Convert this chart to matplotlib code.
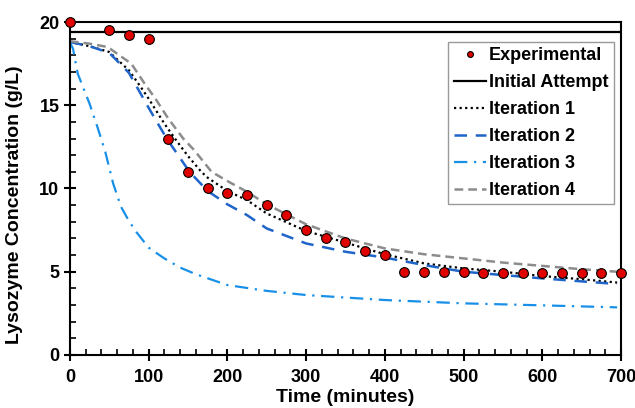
import matplotlib
matplotlib.use("Agg")
import matplotlib.pyplot as plt
from matplotlib.ticker import MultipleLocator

plt.rcParams['font.family'] = ['Liberation Sans', 'DejaVu Sans']
plt.rcParams['font.weight'] = 'bold'

# Experimental data
exp_t = [0, 50, 75, 100, 125, 150, 175, 200, 225, 250, 275, 300, 325, 350, 375, 400,
         425, 450, 475, 500, 525, 550, 575, 600, 625, 650, 675, 700]
exp_c = [20.0, 19.5, 19.25, 19.0, 13.0, 11.0, 10.0, 9.75, 9.6, 9.0, 8.4, 7.5, 7.0, 6.8, 6.25, 6.0,
         5.0, 5.0, 5.0, 5.0, 4.92, 4.92, 4.93, 4.93, 4.93, 4.93, 4.93, 4.93]

# Initial attempt
init_t = [0, 700]
init_c = [19.4, 19.4]

# Iteration 1
it1_t = [0, 25, 50, 75, 90, 100, 120, 135, 150, 167, 175, 200, 225, 250, 300, 350, 400, 450, 500, 550, 600, 650, 695]
it1_c = [18.8, 18.55, 18.2, 17.1, 16.1, 15.4, 13.9, 12.9, 11.95, 11.0, 10.65, 9.85, 9.3, 8.5, 7.45, 6.75, 6.05, 5.5, 5.2, 5.0, 4.74, 4.55, 4.35]

# Iteration 2
it2_t = [0, 25, 50, 75, 100, 123, 152, 175, 200, 225, 250, 300, 350, 400, 450, 500, 550, 600, 650, 695]
it2_c = [18.8, 18.55, 18.15, 16.95, 14.85, 13.0, 11.0, 9.85, 9.05, 8.4, 7.6, 6.7, 6.2, 5.85, 5.4, 5.0, 4.8, 4.6, 4.42, 4.26]

# Iteration 3
it3_t = [0, 4, 10, 25, 35, 45, 55, 65, 75, 85, 100, 120, 140, 160, 200, 250, 300, 350, 400, 500, 600, 695]
it3_c = [18.8, 18.4, 16.9, 15.1, 13.7, 12.2, 10.3, 8.9, 8.05, 7.35, 6.45, 5.8, 5.25, 4.85, 4.2, 3.85, 3.6, 3.45, 3.3, 3.1, 2.98, 2.86]

# Iteration 4
it4_t = [0, 25, 48, 78, 95, 110, 125, 144, 158, 180, 200, 225, 250, 300, 350, 400, 450, 500, 550, 600, 650, 695]
it4_c = [18.85, 18.7, 18.5, 17.5, 16.3, 15.3, 14.2, 13.0, 12.3, 11.0, 10.45, 9.8, 9.05, 7.85, 7.0, 6.4, 6.05, 5.8, 5.55, 5.35, 5.15, 5.0]

fig = plt.figure(figsize=(6.35, 4.08), dpi=100)
ax = fig.add_axes([0.110, 0.130, 0.868, 0.816])

ax.plot(exp_t, exp_c, 'o', color='#e00000', markeredgecolor='black', markeredgewidth=0.8,
        markersize=7, label='Experimental', zorder=5, clip_on=False)
ax.plot(init_t, init_c, '-', color='black', lw=1.6, label='Initial Attempt')
ax.plot(it1_t, it1_c, color='black', lw=1.6, linestyle=(0, (1, 1.5)), label='Iteration 1')
ax.plot(it2_t, it2_c, color='#1f64c8', lw=1.8, linestyle=(0, (5, 3.5)), label='Iteration 2')
ax.plot(it3_t, it3_c, color='#1990e8', lw=1.6, linestyle=(0, (6, 3, 1, 3)), label='Iteration 3')
ax.plot(it4_t, it4_c, color='#8c8c8c', lw=1.8, linestyle=(0, (3.5, 2)), label='Iteration 4')

ax.set_xlim(0, 700)
ax.set_ylim(0, 20)
ax.xaxis.set_major_locator(MultipleLocator(100))
ax.xaxis.set_minor_locator(MultipleLocator(20))
ax.yaxis.set_major_locator(MultipleLocator(5))
ax.yaxis.set_minor_locator(MultipleLocator(1))
ax.tick_params(which='major', direction='inout', length=8, width=1.5, labelsize=13)
ax.tick_params(axis='x', which='major', pad=6)
ax.tick_params(which='minor', direction='in', length=4, width=1.2)
for s in ax.spines.values():
    s.set_linewidth(1.5)
for lab in ax.get_xticklabels() + ax.get_yticklabels():
    lab.set_fontweight('bold')

ax.set_xlabel('Time (minutes)', fontsize=14, fontweight='bold', labelpad=2)
ax.set_ylabel('Lysozyme Concentration (g/L)', fontsize=14, fontweight='bold')
ax.yaxis.set_label_coords(-0.085, 0.45)

leg = ax.legend(loc='upper right', bbox_to_anchor=(0.987, 0.94), fontsize=13, frameon=True,
                fancybox=False, edgecolor='#808080', handlelength=1.8, handletextpad=0.15,
                borderpad=0.3, labelspacing=0.55, markerscale=0.6, borderaxespad=0)
leg.get_frame().set_linewidth(1.0)
for t in leg.get_texts():
    t.set_fontweight('bold')

fig.savefig('out.png', dpi=100)
